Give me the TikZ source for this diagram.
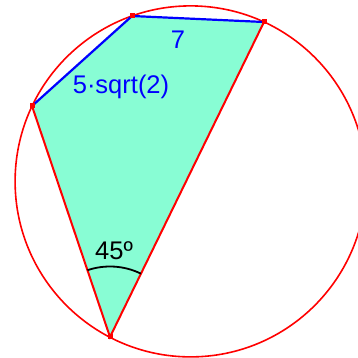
\documentclass[tikz,border=0pt]{standalone}
\usepackage{fontspec}
\setmainfont{Liberation Sans}
\usetikzlibrary{calc}
\definecolor{fillc}{RGB}{136,253,212}
\definecolor{myblue}{RGB}{0,0,255}
\definecolor{myred}{RGB}{255,0,0}
\tikzset{
  edgeb/.style={myblue,line width=2.2pt},
  edger/.style={myred,line width=2pt},
  vtx/.style={fill=myred,draw=none,minimum size=5pt,inner sep=0pt,rectangle},
  lbl/.style={font=\fontsize{25.5}{28}\selectfont,inner sep=0pt}
}
\begin{document}
\begin{tikzpicture}[x=1pt,y=1pt]
\useasboundingbox (0,0) rectangle (357,358);
\coordinate (O) at (190.6,176.6);
\coordinate (A) at (32,252);
\coordinate (B) at (132,342);
\coordinate (C) at (264,336);
\coordinate (D) at (110,21);
\fill[fillc] (A) -- (B) -- (C) -- (D) -- cycle;
\draw[myred,line width=1.6pt] (O) circle[radius=175.5];
\draw[edger] (C) -- (D) -- (A);
\draw[edgeb] (A) -- (B) -- (C);
\draw[black,line width=1.8pt] ($(D)!70.5pt!(A)$) arc[start angle=108.66,end angle=63.95,radius=70.5pt];
\node[vtx] (a) at (A) {};
\node[vtx] (b) at (B) {};
\node[vtx] (c) at (C) {};
\node[vtx] (d) at (D) {};
\node[lbl,myblue] (l7) at (178,318) {7};
\node[lbl,myblue] (ls) at (121,271) {5·sqrt(2)};
\node[lbl,black] (la) at (114,107) {45º};
\end{tikzpicture}
\end{document}
